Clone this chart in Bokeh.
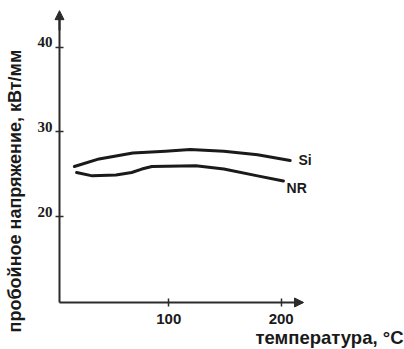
import math
from bokeh.plotting import figure
from bokeh.models import (Range1d, FixedTicker, Arrow, NormalHead, Label, LabelSet,
                          ColumnDataSource, CustomJSTickFormatter, LinearAxis)
from bokeh.embed import file_html
from bokeh.resources import INLINE

# ---- data ----
si_temp = [16, 38, 68, 97, 119, 149, 179, 208]
si_volt = [25.9, 26.8, 27.5, 27.7, 27.9, 27.7, 27.3, 26.6]

nr_temp = [18, 32, 53, 67, 76, 85, 124, 149, 179, 202]
nr_volt = [25.2, 24.8, 24.9, 25.2, 25.6, 25.9, 26.0, 25.6, 24.8, 24.2]

x_ticks = [100, 200]
y_ticks = [20, 30, 40]
y_tick_labels = ["20", "30", "40"]
series_names = ["Si", "NR"]
x_title = "температура, °C"
y_title = "пробойное напряжение, кВт/мм"

# ---- layout ----
XA, YA = 2.8, 9.85          # where the axes cross
X0, X1 = -49.7, 309.7       # frame covers whole canvas
Y0, Y1 = 4.30, 45.5
INK = "#1a1a1a"
AX = "#2b2b2b"
FONT = "Liberation Sans"

p = figure(width=404, height=349, output_backend="svg", toolbar_location=None,
           x_range=Range1d(X0, X1), y_range=Range1d(Y0, Y1),
           x_axis_location=None, y_axis_location=None,
           min_border_left=0, min_border_right=0, min_border_top=0, min_border_bottom=0)
p.outline_line_color = None
p.xgrid.visible = False
p.ygrid.visible = False
p.background_fill_color = "white"
p.border_fill_color = "white"

xaxis = LinearAxis(fixed_location=YA, ticker=FixedTicker(ticks=x_ticks), bounds=(XA, 219.0))
yaxis = LinearAxis(fixed_location=XA, ticker=FixedTicker(ticks=y_ticks), bounds=(YA, 43.5),
                   formatter=CustomJSTickFormatter(code="return ''"))
for ax in (xaxis, yaxis):
    ax.axis_line_color = AX
    ax.axis_line_width = 2
    ax.major_tick_line_color = AX
    ax.major_tick_line_width = 1.5
    ax.major_tick_in = 4
    ax.major_tick_out = 4
    ax.minor_tick_line_color = None
    ax.major_label_text_font = FONT
    ax.major_label_text_font_style = "bold"
    ax.major_label_text_font_size = "15px"
    ax.major_label_text_color = INK
xaxis.major_label_standoff = 8
p.add_layout(xaxis, "below")
p.add_layout(yaxis, "left")

# y tick labels sitting just above their ticks
ysrc = ColumnDataSource(dict(x=[XA] * len(y_ticks), y=y_ticks, t=y_tick_labels))
p.add_layout(LabelSet(x="x", y="y", text="t", source=ysrc, x_offset=-7,
                      text_align="right", text_baseline="alphabetic",
                      text_font=FONT, text_font_style="bold", text_font_size="15px",
                      text_color=INK))

# axis arrows
p.add_layout(Arrow(end=NormalHead(size=9, fill_color=AX, line_color=AX, line_width=1),
                   x_start=XA, y_start=42.0, x_end=XA, y_end=44.3,
                   line_color=AX, line_width=2))
p.add_layout(Arrow(end=NormalHead(size=9, fill_color=AX, line_color=AX, line_width=1),
                   x_start=212.0, y_start=YA, x_end=219.9, y_end=YA,
                   line_color=AX, line_width=2))

# curves
p.line(si_temp, si_volt, line_color=INK, line_width=3, line_cap="round", line_join="round")
p.line(nr_temp, nr_volt, line_color=INK, line_width=3, line_cap="round", line_join="round")

# series labels
p.add_layout(Label(x=215.4, y=26.62, text=series_names[0], text_align="left",
                   text_baseline="alphabetic", text_font=FONT, text_font_style="bold",
                   text_font_size="14px", text_color=INK))
p.add_layout(Label(x=204.8, y=23.32, text=series_names[1], text_align="left",
                   text_baseline="alphabetic", text_font=FONT, text_font_style="bold",
                   text_font_size="14px", text_color=INK))

# axis titles
p.add_layout(Label(x=308.8, y=5.75, text=x_title, text_align="right",
                   text_baseline="alphabetic", text_font=FONT, text_font_style="bold",
                   text_font_size="18.5px", text_color=INK))
p.add_layout(Label(x=-37.2, y=23.0, text=y_title, angle=math.pi / 2,
                   text_align="center", text_baseline="alphabetic", text_font=FONT,
                   text_font_style="bold", text_font_size="18px", text_color=INK))

open("out.html", "w").write(file_html(p, INLINE))
